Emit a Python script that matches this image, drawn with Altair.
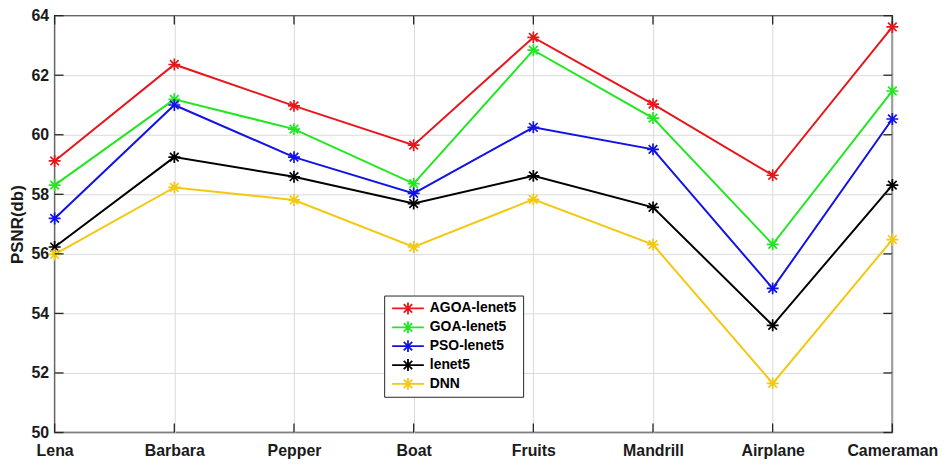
import altair as alt
import pandas as pd

categories = ["Lena", "Barbara", "Pepper", "Boat", "Fruits", "Mandrill", "Airplane", "Cameraman"]
series_names = ["AGOA-lenet5", "GOA-lenet5", "PSO-lenet5", "lenet5", "DNN"]
agoa = [59.12, 62.36, 60.97, 59.65, 63.27, 61.03, 58.64, 63.62]
goa = [58.31, 61.19, 60.19, 58.36, 62.84, 60.56, 56.32, 61.47]
pso = [57.19, 61.00, 59.25, 58.03, 60.25, 59.51, 54.84, 60.53]
lenet5 = [56.23, 59.25, 58.59, 57.69, 58.62, 57.56, 53.60, 58.31]
dnn = [55.98, 58.23, 57.81, 56.23, 57.83, 56.31, 51.65, 56.48]
colors = ["#e8161b", "#22e622", "#1212e6", "#000000", "#f2c811"]
y_ticks = [50, 52, 54, 56, 58, 60, 62, 64]

rows = []
for s, vals in zip(series_names, [agoa, goa, pso, lenet5, dnn]):
    for c, v in zip(categories, vals):
        rows.append({"image": c, "series": s, "psnr": v})
df = pd.DataFrame(rows)

FONT = "Liberation Sans"
AX = "#262626"
GRID = "#dadada"

xscale = alt.Scale(type="point", domain=categories, padding=0)
yscale = alt.Scale(domain=[50, 64], nice=False, zero=False)
cscale = alt.Scale(domain=series_names, range=colors)

star = "M-1,0L1,0M0,-1L0,1M-0.72,-0.72L0.72,0.72M-0.72,0.72L0.72,-0.72"
legend_star = ("M-3.2,0L3.2,0M0,-1.2L0,1.2M-0.85,-0.85L0.85,0.85"
               "M-0.85,0.85L0.85,-0.85")

x_axis = alt.Axis(title=None, labelAngle=0, grid=True, ticks=False, domain=False,
                  labelFontSize=16, labelFontWeight="bold", labelFont=FONT,
                  labelColor="#1a1a1a", labelPadding=10, gridColor=GRID, gridWidth=1)
y_axis = alt.Axis(title="PSNR(db)", values=y_ticks, grid=True, ticks=False, domain=False,
                  labelFontSize=16, labelFontWeight="bold", labelFont=FONT,
                  labelColor="#1a1a1a", labelPadding=6, gridColor=GRID, gridWidth=1,
                  titleFont=FONT, titleFontSize=17, titleFontWeight="bold",
                  titleColor="#1a1a1a", titlePadding=5, format="d")

legend = alt.Legend(title=None, orient="none", legendX=332, legendY=282,
                    direction="vertical", symbolType=legend_star, symbolSize=100,
                    symbolStrokeWidth=1.8, symbolOffset=11, labelOffset=15,
                    labelFontSize=14, labelFont=FONT, labelFontWeight="bold",
                    labelColor="#000000", padding=6, rowPadding=5, clipHeight=14,
                    strokeColor=AX, fillColor="white", symbolFillColor="transparent")


def X():
    return alt.X("image:N", scale=xscale, sort=categories, axis=x_axis)


def Y():
    return alt.Y("psnr:Q", scale=yscale, axis=y_axis)


base = alt.Chart(df)
lines = base.mark_line(strokeWidth=2).encode(
    x=X(), y=Y(),
    color=alt.Color("series:N", scale=cscale, sort=series_names, legend=legend),
)
points = base.mark_point(shape=star, filled=False, size=144, strokeWidth=1.7, opacity=1).encode(
    x=X(), y=Y(),
    color=alt.Color("series:N", scale=cscale, sort=series_names, legend=legend),
)

xt = pd.DataFrame({"image": categories})
yt = pd.DataFrame({"psnr": y_ticks})
tick_w = 1.3
xb = alt.Chart(xt).mark_rule(color=AX, strokeWidth=tick_w).encode(
    x=X(), y=alt.value(420), y2=alt.value(411))
xtop = alt.Chart(xt).mark_rule(color=AX, strokeWidth=tick_w).encode(
    x=X(), y=alt.value(0), y2=alt.value(9))
yl = alt.Chart(yt).mark_rule(color=AX, strokeWidth=tick_w).encode(
    y=Y(), x=alt.value(0), x2=alt.value(9))
yr = alt.Chart(yt).mark_rule(color=AX, strokeWidth=tick_w).encode(
    y=Y(), x=alt.value(844), x2=alt.value(835))

chart = alt.layer(lines, points, xb, xtop, yl, yr).properties(
    width=844, height=420, autosize="none",
    padding={"left": 47, "top": 6, "right": 46, "bottom": 28},
    background="white",
).configure_view(stroke=AX, strokeWidth=1.5)

chart.save("out.html", embed_options={"renderer": "svg", "actions": False})
